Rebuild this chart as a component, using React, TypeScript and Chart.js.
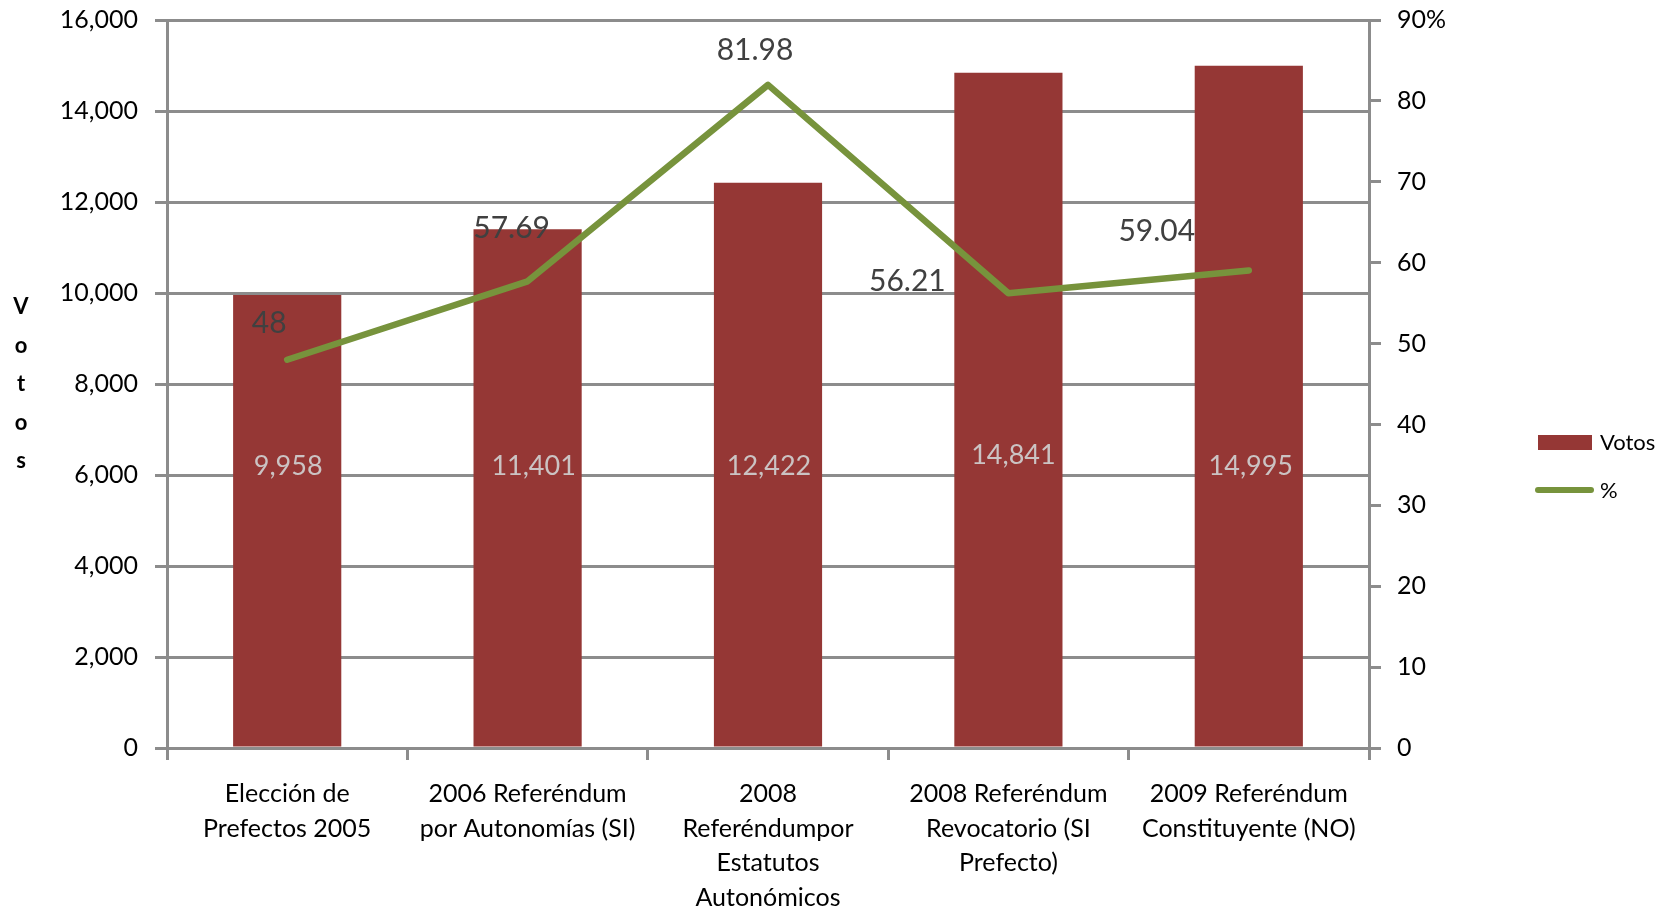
import React, { useEffect, useRef } from "react";
import { Chart, registerables } from "chart.js";

Chart.register(...registerables);

const categories: string[][] = [
  ["Elección de", "Prefectos 2005"],
  ["2006 Referéndum", "por Autonomías (SI)"],
  ["2008", "Referéndumpor", "Estatutos", "Autonómicos"],
  ["2008 Referéndum", "Revocatorio (SI", "Prefecto)"],
  ["2009 Referéndum", "Constituyente (NO)"],
];
const votos: number[] = [9958, 11401, 12422, 14841, 14995];
const porcentaje: number[] = [48, 57.69, 81.98, 56.21, 59.04];
const votosTicks = { min: 0, max: 16000, step: 2000 };
const pctTicks = { min: 0, max: 90, step: 10 };

// label placement offsets (px) relative to the mark
const pctLabelOffsets: [number, number][] = [
  [-18, -36],
  [-16, -53],
  [-13, -35],
  [-101, -12],
  [-92, -39],
];
const barLabelOffsets: [number, number][] = [
  [1, -280],
  [6, -280],
  [1, -280],
  [5, -291],
  [2, -280],
];

const BAR_COLOR = "#953735";
const LINE_COLOR = "#77933C";
const GRID_COLOR = "#8C8C8C";
const FONT = "Lato";

const labelsPlugin = {
  id: "customLabels",
  afterDatasetsDraw(chart: any) {
    const ctx = chart.ctx;
    ctx.save();
    ctx.textAlign = "center";
    ctx.textBaseline = "middle";
    const barMeta = chart.getDatasetMeta(1);
    ctx.font = `27px ${FONT}`;
    ctx.fillStyle = "#CBC3C3";
    barMeta.data.forEach((el: any, i: number) => {
      const [dx, dy] = barLabelOffsets[i];
      ctx.fillText(votos[i].toLocaleString("en-US"), el.x + dx, el.base + dy);
    });
    const lineMeta = chart.getDatasetMeta(0);
    ctx.font = `30px ${FONT}`;
    ctx.fillStyle = "#404040";
    lineMeta.data.forEach((el: any, i: number) => {
      const [dx, dy] = pctLabelOffsets[i];
      ctx.fillText(String(porcentaje[i]), el.x + dx, el.y + dy);
    });
    ctx.restore();
  },
  afterDraw(chart: any) {
    const ctx = chart.ctx;
    const area = chart.chartArea;
    ctx.save();
    // vertical stacked axis title
    ctx.font = `bold 22px ${FONT}`;
    ctx.fillStyle = "#000";
    ctx.textAlign = "center";
    ctx.textBaseline = "middle";
    const letters = "Votos".split("");
    const mid = (area.top + area.bottom) / 2;
    const spacing = 38.5;
    letters.forEach((ch, i) => {
      ctx.fillText(ch, 21, mid + (i - 2) * spacing);
    });
    // legend
    const lx = area.right + 169;
    ctx.fillStyle = BAR_COLOR;
    ctx.fillRect(lx, 435, 54, 15);
    ctx.fillStyle = "#000";
    ctx.textAlign = "left";
    ctx.font = `22px ${FONT}`;
    ctx.fillText("Votos", lx + 62, 443);
    ctx.strokeStyle = LINE_COLOR;
    ctx.lineWidth = 6;
    ctx.lineCap = "round";
    ctx.beginPath();
    ctx.moveTo(lx, 490);
    ctx.lineTo(lx + 53, 490);
    ctx.stroke();
    ctx.fillText("%", lx + 62, 491);
    ctx.restore();
  },
};

export default function App() {
  const ref = useRef<HTMLCanvasElement | null>(null);
  useEffect(() => {
    if (!ref.current) return;
    const chart = new Chart(ref.current, {
      type: "bar",
      data: {
        labels: categories,
        datasets: [
          {
            type: "line",
            label: "%",
            data: porcentaje,
            yAxisID: "y1",
            borderColor: LINE_COLOR,
            backgroundColor: LINE_COLOR,
            borderWidth: 6.5,
            pointRadius: 0,
            tension: 0,
            borderCapStyle: "round",
            borderJoinStyle: "round",
            order: 0,
          } as any,
          {
            type: "bar",
            label: "Votos",
            data: votos,
            yAxisID: "y",
            backgroundColor: BAR_COLOR,
            categoryPercentage: 1,
            barPercentage: 0.45,
            order: 1,
          },
        ],
      },
      plugins: [labelsPlugin],
      options: {
        responsive: false,
        animation: false,
        layout: { padding: { top: 20, left: 0, right: 0, bottom: 0 } },
        plugins: { legend: { display: false }, tooltip: { enabled: false } },
        scales: {
          x: {
            offset: true,
            grid: {
              offset: true,
              drawOnChartArea: false,
              drawTicks: true,
              tickLength: 12,
              color: GRID_COLOR,
              lineWidth: 3,
            },
            border: { display: true, color: GRID_COLOR, width: 3 },
            ticks: {
              autoSkip: false,
              maxRotation: 0,
              minRotation: 0,
              padding: 17,
              color: "#000",
              font: { family: FONT, size: 25, lineHeight: 1.38 },
            },
            afterFit(scale: any) {
              scale.height = 165;
              scale.paddingLeft = 0;
              scale.paddingRight = 0;
            },
          },
          y: {
            position: "left",
            min: votosTicks.min,
            max: votosTicks.max,
            grid: {
              color: GRID_COLOR,
              lineWidth: 3,
              drawTicks: true,
              tickLength: 12,
            },
            border: { display: true, color: GRID_COLOR, width: 3 },
            ticks: {
              stepSize: votosTicks.step,
              padding: 17,
              color: "#000",
              font: { family: FONT, size: 25 },
              callback: (v: any) => Number(v).toLocaleString("en-US"),
            },
            afterFit(scale: any) {
              scale.width = 167;
              scale.paddingTop = 0;
              scale.paddingBottom = 0;
            },
          },
          y1: {
            position: "right",
            min: pctTicks.min,
            max: pctTicks.max,
            grid: {
              drawOnChartArea: false,
              drawTicks: true,
              tickLength: 12,
              color: GRID_COLOR,
              lineWidth: 3,
            },
            border: { display: true, color: GRID_COLOR, width: 3 },
            ticks: {
              stepSize: pctTicks.step,
              padding: 16,
              color: "#000",
              font: { family: FONT, size: 25 },
              callback: (v: any) => (Number(v) === 90 ? "90%" : String(v)),
            },
            afterFit(scale: any) {
              scale.width = 1680 - 1369;
              scale.paddingTop = 0;
              scale.paddingBottom = 0;
            },
          },
        },
      },
    });
    return () => chart.destroy();
  }, []);
  return (
    <div style={{ position: "fixed", left: 0, top: 0, width: 1680, height: 913, background: "#fff" }}>
      <canvas ref={ref} width={1680} height={913} style={{ width: 1680, height: 913, display: "block" }} />
    </div>
  );
}
